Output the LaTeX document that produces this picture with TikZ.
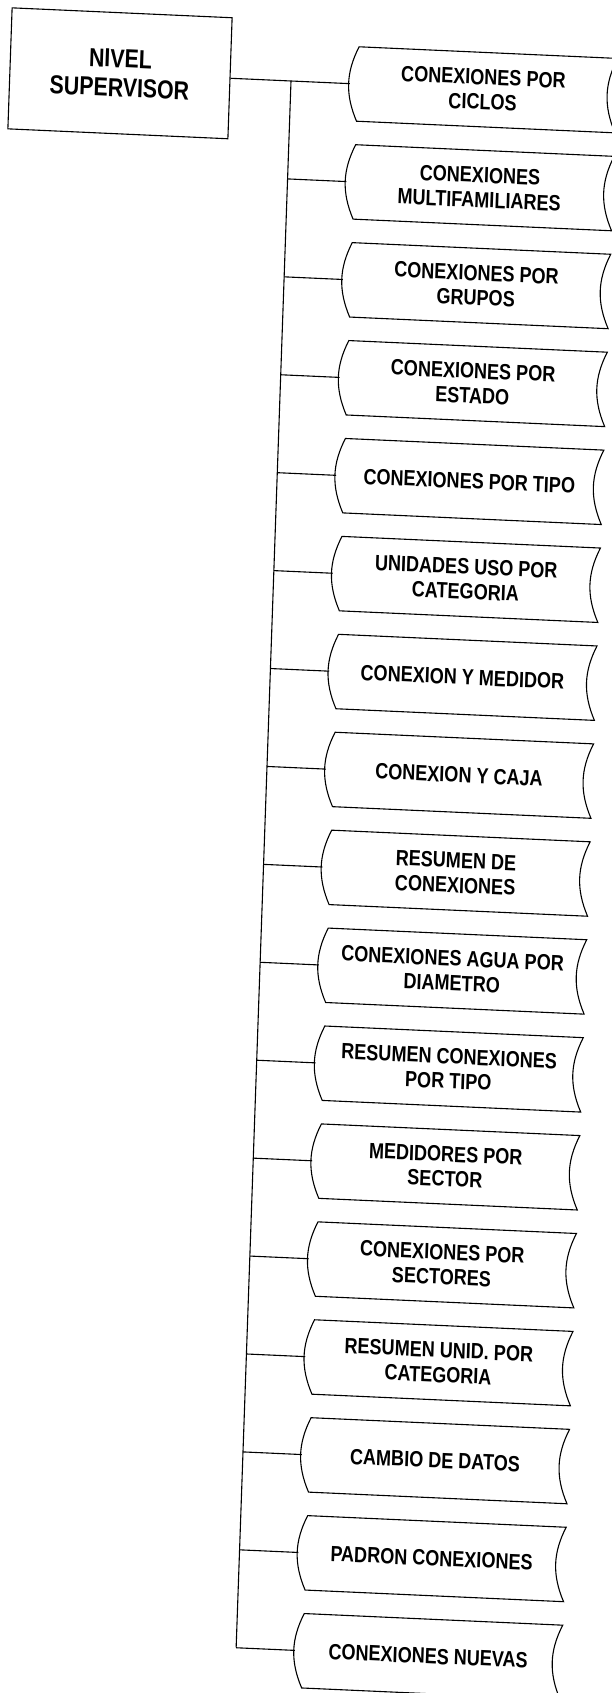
\documentclass[tikz,border=0pt]{standalone}
\usepackage{fontspec}
\setmainfont{Liberation Sans}[FakeStretch=0.82]
\begin{document}
\begin{tikzpicture}[x=1pt,y=-1pt]
    \useasboundingbox (0,0) rectangle (612,1693);
    \begin{scope}[cm={1,-0.045,0.035,1,(291pt,-81pt)},
        every node/.style={transform shape, align=center},
        nivel/.style={draw, line width=1.1pt, minimum width=220pt, minimum height=121pt,
            font=\fontsize{26}{29.2}\selectfont\bfseries},
        modulo/.style={minimum width=266pt, minimum height=74pt, inner sep=0pt,
            font=\fontsize{22}{24.8}\selectfont\bfseries},
        linea/.style={line width=1.1pt}]
        % Nivel supervisor
        \node[nivel] (supervisor) at (-171,0) {NIVEL\\SUPERVISOR};
        \coordinate (tronco) at (0,0);
        \coordinate (fin) at (0,1566);
        % Modulos del nivel
        \foreach \i/\txt in {1/{CONEXIONES POR\\CICLOS}, 2/{CONEXIONES\\MULTIFAMILIARES},
            3/{CONEXIONES POR\\GRUPOS}, 4/{CONEXIONES POR\\ESTADO}, 5/{CONEXIONES POR TIPO},
            6/{UNIDADES USO POR\\CATEGORIA}, 7/{CONEXION Y MEDIDOR}, 8/{CONEXION Y CAJA},
            9/{RESUMEN DE\\CONEXIONES}, 10/{CONEXIONES AGUA POR\\DIAMETRO},
            11/{RESUMEN CONEXIONES\\POR TIPO}, 12/{MEDIDORES POR\\SECTOR},
            13/{CONEXIONES POR\\SECTORES}, 14/{RESUMEN UNID. POR\\CATEGORIA},
            15/{CAMBIO DE DATOS}, 16/{PADRON CONEXIONES}, 17/{CONEXIONES NUEVAS}} {
            \node[modulo] (m\i) at (192,{(\i-1)*97.9}) {\txt};
            \coordinate (r\i) at (0,{(\i-1)*97.9});
            \draw[linea] ([xshift=8pt]m\i.north west) to[bend right=25] ([xshift=8pt]m\i.south west)
                -- (m\i.south east) to[bend left=25] (m\i.north east) -- cycle;
            \draw[linea] (r\i) -- (m\i.west);
        }
        % Conectores
        \draw[linea] (supervisor.east) -- (tronco);
        \draw[linea] (tronco) -- (fin);
    \end{scope}
\end{tikzpicture}
\end{document}
